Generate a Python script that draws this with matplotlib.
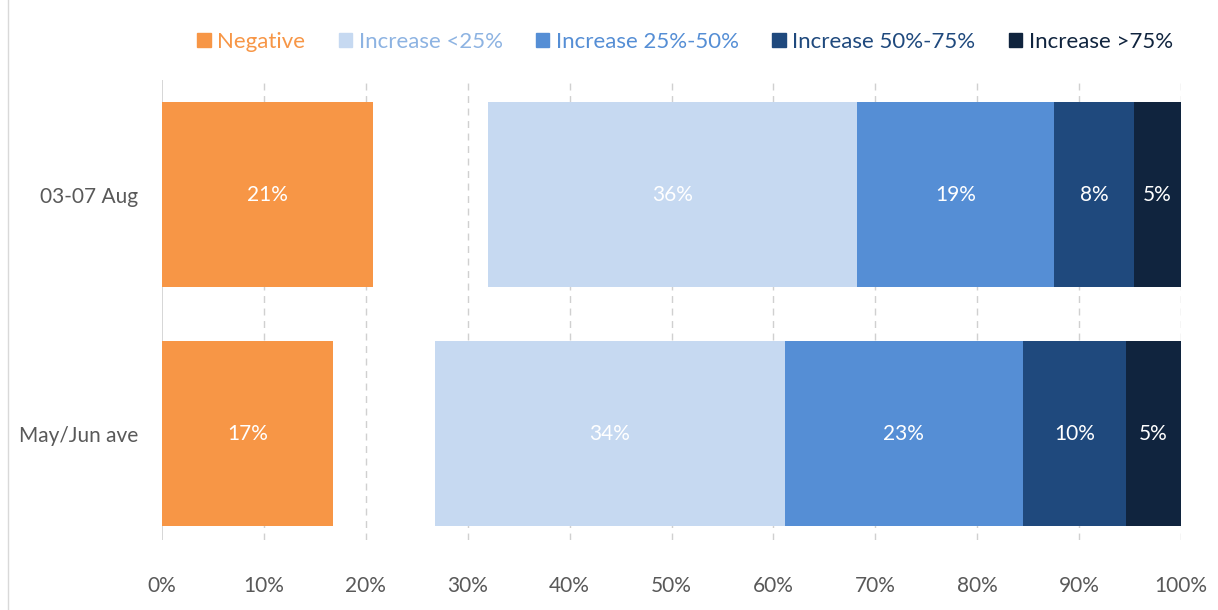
import matplotlib
matplotlib.use("Agg")
import matplotlib.pyplot as plt
from matplotlib.patches import Patch
from matplotlib.lines import Line2D
import numpy as np

plt.rcParams['font.family'] = ['Lato', 'DejaVu Sans']

# データ
periods = ["May/Jun ave", "03-07 Aug"]
negative = [16.8, 20.7]
inc_lt25 = [34.3, 36.2]
inc_25_50 = [23.4, 19.3]
inc_50_75 = [10.1, 7.9]
inc_gt75 = [5.4, 4.6]

series_names = ["Increase <25%", "Increase 25%-50%", "Increase 50%-75%", "Increase >75%"]
series_vals = [inc_lt25, inc_25_50, inc_50_75, inc_gt75]
colors = ["#C6D9F1", "#558ED5", "#1F497D", "#10243E"]
neg_color = "#F79646"
grey = "#595959"

fig = plt.figure(figsize=(12.18, 6.10), dpi=100)
ax = fig.add_axes([162/1218, 1-540/610, (1181-162)/1218, 460/610])

y = np.arange(len(periods))
h = 0.774

# マイナスの棒
ax.barh(y, negative, height=h, color=neg_color, zorder=3)
for yi, v in zip(y, negative):
    ax.text(v/2, yi, f"{v:.0f}%", ha="center", va="center", color="white", fontsize=15, zorder=4)

# 増加の棒は100%で終わるように右寄せ
total_inc = np.sum(series_vals, axis=0)
left = 100 - total_inc
for name, vals, c in zip(series_names, series_vals, colors):
    ax.barh(y, vals, left=left, height=h, color=c, zorder=3)
    for yi, l, v in zip(y, left, vals):
        ax.text(l + v/2, yi, f"{v:.0f}%", ha="center", va="center", color="white", fontsize=15, zorder=4)
    left = left + np.array(vals)

ax.set_xlim(0, 100)
ax.set_ylim(-0.444, 1.481)
ax.set_xticks(np.arange(0, 101, 10))
ax.set_xticklabels([f"{t}%" for t in range(0, 101, 10)])
ax.set_yticks(y)
ax.set_yticklabels(periods)
ax.tick_params(axis="both", length=0, labelsize=15, colors=grey)
ax.tick_params(axis="x", pad=26)
ax.tick_params(axis="y", pad=17)
for s in ax.spines.values():
    s.set_visible(False)

# グリッド
for t in range(10, 101, 10):
    ax.axvline(t, color="#D0D0D0", linestyle=(0, (5, 4)), linewidth=1, zorder=1)
ax.axvline(0, color="#D0D0D0", linewidth=1.2, zorder=1)

# 左の枠線
fig.add_artist(Line2D([8/1218, 8/1218], [0, 1], color="#D9D9D9", linewidth=1, transform=fig.transFigure))

# 凡例
handles = [Patch(color=neg_color, label="Negative")] + \
          [Patch(color=c, label=n) for c, n in zip(colors, series_names)]
leg = fig.legend(handles=handles, loc="center", bbox_to_anchor=(685/1218, 1-42/610), ncol=5,
                 frameon=False, fontsize=16, handlelength=0.6, handleheight=0.6,
                 handletextpad=0.3, columnspacing=1.5)
for txt, c in zip(leg.get_texts(), [neg_color] + ["#8DB3E2", "#558ED5", "#1F497D", "#10243E"]):
    txt.set_color(c)

fig.savefig("out.png", dpi=100)
